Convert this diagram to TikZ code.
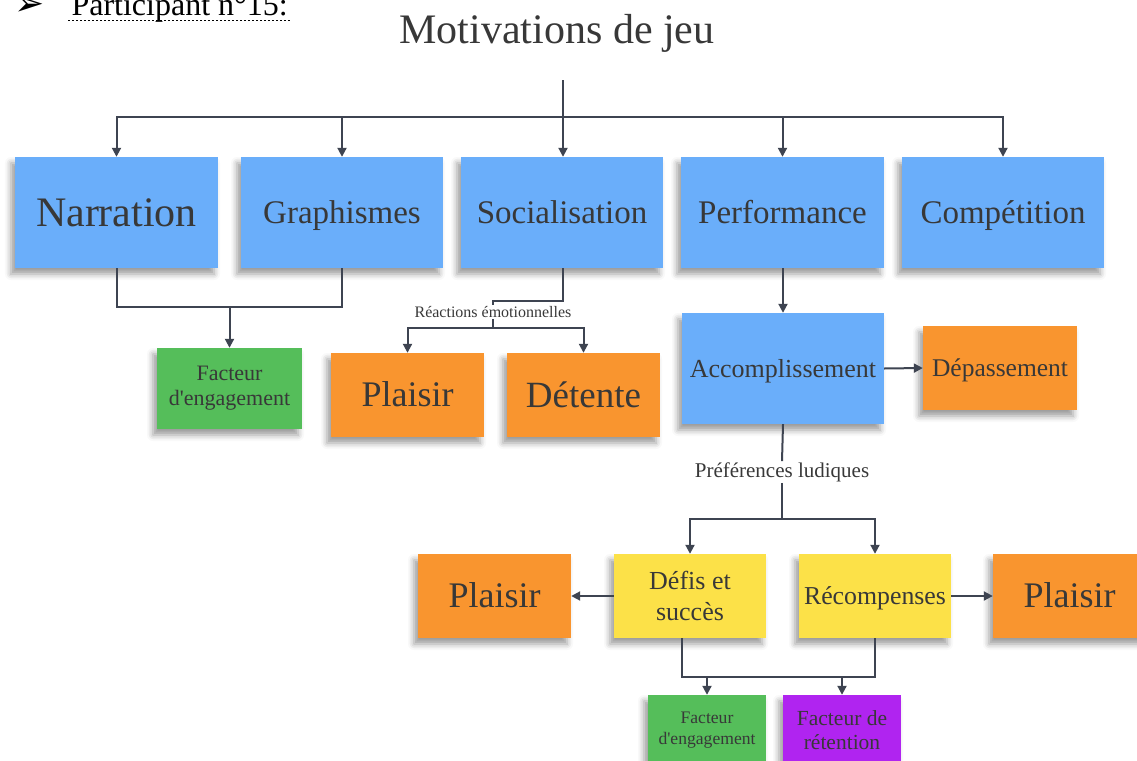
\documentclass[tikz,border=0pt]{standalone}
\usepackage{fontspec}
\setmainfont[Ligatures=TeXOff]{Liberation Serif}
\newfontfamily\symfont{DejaVu Sans}
\usetikzlibrary{arrows.meta,shadows.blur,calc}
\definecolor{noteblue}{HTML}{6AAEFA}
\definecolor{noteorange}{HTML}{F9952F}
\definecolor{notegreen}{HTML}{55BE5A}
\definecolor{noteyellow}{HTML}{FCE148}
\definecolor{notepurple}{HTML}{B024F0}
\definecolor{ink}{HTML}{383838}
\definecolor{wire}{HTML}{3E4451}
\begin{document}
\begin{tikzpicture}[x=1pt,y=-1pt,
  note/.style={rectangle, inner sep=0pt, text=ink, align=center,
    blur shadow={shadow xshift=-4pt, shadow yshift=-6pt, shadow blur radius=6pt, shadow opacity=40}},
  % single-line label: box reduced to the cap height so capitals sit centred
  oneline/.style={text height=#1pt, text depth=0pt},
  fs/.style 2 args={font=\fontsize{#1}{#2}\selectfont},
  lab/.style={inner sep=1pt, text=ink},
  link/.style={draw=wire, line width=2pt},
  arr/.style={link, -{Triangle[width=9pt,length=9pt]}}]
\useasboundingbox (0,0) rectangle (1137,760);

% heading
\node[anchor=base east, font=\symfont\fontsize{36}{36}\selectfont] (bul) at (48,16) {➢};
\node[anchor=base west, fs={32}{36}] (part) at (68,16) {Participant n°15:};
\draw[dash pattern=on 2pt off 2pt, line width=1pt] ($(part.base west)+(0,5)$) -- ($(part.base east)+(0,5)$);
\node[anchor=base, fs={42}{46}, text=ink] (title) at (557,44) {Motivations de jeu};

% first row
\node[note, oneline=27.7, fill=noteblue, minimum width=203, minimum height=111, fs={42}{46}] (narr) at (116.5,212.5) {Narration};
\node[note, oneline=21.8, fill=noteblue, minimum width=202, minimum height=111, fs={33}{36}] (graph) at (342,212.5) {Graphismes};
\node[note, oneline=21.8, fill=noteblue, minimum width=202, minimum height=111, fs={33}{36}] (soc) at (562,212.5) {Socialisation};
\node[note, oneline=21.8, fill=noteblue, minimum width=203, minimum height=111, fs={33}{36}] (perf) at (782.5,212.5) {Performance};
\node[note, oneline=21.8, fill=noteblue, minimum width=202, minimum height=111, fs={33}{36}] (comp) at (1003,212.5) {Compétition};

\coordinate (top) at (563,80);
\coordinate (bar) at (563,117);
\draw[link] (top) -- (bar);
\draw[arr] (bar) -| (narr.north);
\draw[arr] (bar) -| (graph.north);
\draw[arr] (bar) -- (bar |- soc.north);
\draw[arr] (bar) -| (perf.north);
\draw[arr] (bar) -| (comp.north);

% second row, left
\node[note, fill=notegreen, minimum width=145, minimum height=81, fs={22}{25}] (fac1) at (229.5,388.5) {Facteur\\d'engagement};
\coordinate (j2) at (229.5,307);
\draw[link] (narr.south) |- (j2);
\draw[link] (graph.south) |- (j2);
\draw[arr] (j2) -- (fac1.north);

\node[lab, fs={16}{18}] (reac) at (493,312) {Réactions émotionnelles};
\node[note, oneline=23.8, fill=noteorange, minimum width=153, minimum height=84, fs={36}{40}] (pl1) at (407.5,395) {Plaisir};
\node[note, oneline=24.4, fill=noteorange, minimum width=153, minimum height=84, fs={37}{40}] (det) at (583.5,395) {Détente};
\coordinate (j3) at (493,301);
\coordinate (j4) at (493,328);
\draw[link] (soc.south -| 563,0) |- (j3) -- (reac.north);
\draw[link] (reac.south) -- (j4);
\draw[arr] (j4) -| (pl1.north);
\draw[arr] (j4) -| (det.north);

% second row, right
\node[note, oneline=17.2, fill=noteblue, minimum width=202, minimum height=111, fs={26}{30}] (acc) at (783,368.5) {Accomplissement};
\node[note, oneline=16.8, fill=noteorange, minimum width=154, minimum height=84, fs={25.5}{29}] (dep) at (1000,368) {Dépassement};
\draw[arr] (perf.south -| acc.north) -- (acc.north);
\draw[arr] (acc.east) -- (dep.west);

% third row
\node[lab, fs={21}{24}] (pref) at (782,472) {Préférences ludiques};
\node[note, fill=noteyellow, minimum width=152, minimum height=84, fs={26}{31}] (defis) at (690,596) {Défis et\\succès};
\node[note, oneline=17.0, fill=noteyellow, minimum width=152, minimum height=84, fs={25.8}{30}] (recomp) at (875,596) {Récompenses};
\node[note, oneline=23.8, fill=noteorange, minimum width=153, minimum height=84, fs={36}{40}] (pl2) at (494.5,596) {Plaisir};
\node[note, oneline=23.8, fill=noteorange, minimum width=153, minimum height=84, fs={36}{40}] (pl3) at (1069.5,596) {Plaisir};
\coordinate (j5) at (782,519);
\draw[link] (acc.south) -- (pref.north);
\draw[link] (pref.south) -- (j5);
\draw[arr] (j5) -| (defis.north);
\draw[arr] (j5) -| (recomp.north);
\draw[arr] (defis.west) -- (pl2.east);
\draw[arr] (recomp.east) -- (pl3.west);

% fourth row
\node[note, fill=notegreen, minimum width=118, minimum height=70, fs={17.6}{21}] (fac2) at (707,730) {Facteur\\d'engagement};
\node[note, fill=notepurple, minimum width=118, minimum height=70, fs={21.5}{24}] (ret) at (842,730) {Facteur de\\rétention};
\coordinate (j6) at (780,677);
\draw[link] ([xshift=-8pt]defis.south) |- (j6);
\draw[link] (recomp.south) |- (j6);
\draw[arr] (j6) -| (fac2.north);
\draw[arr] (j6) -| (ret.north);
\end{tikzpicture}
\end{document}
